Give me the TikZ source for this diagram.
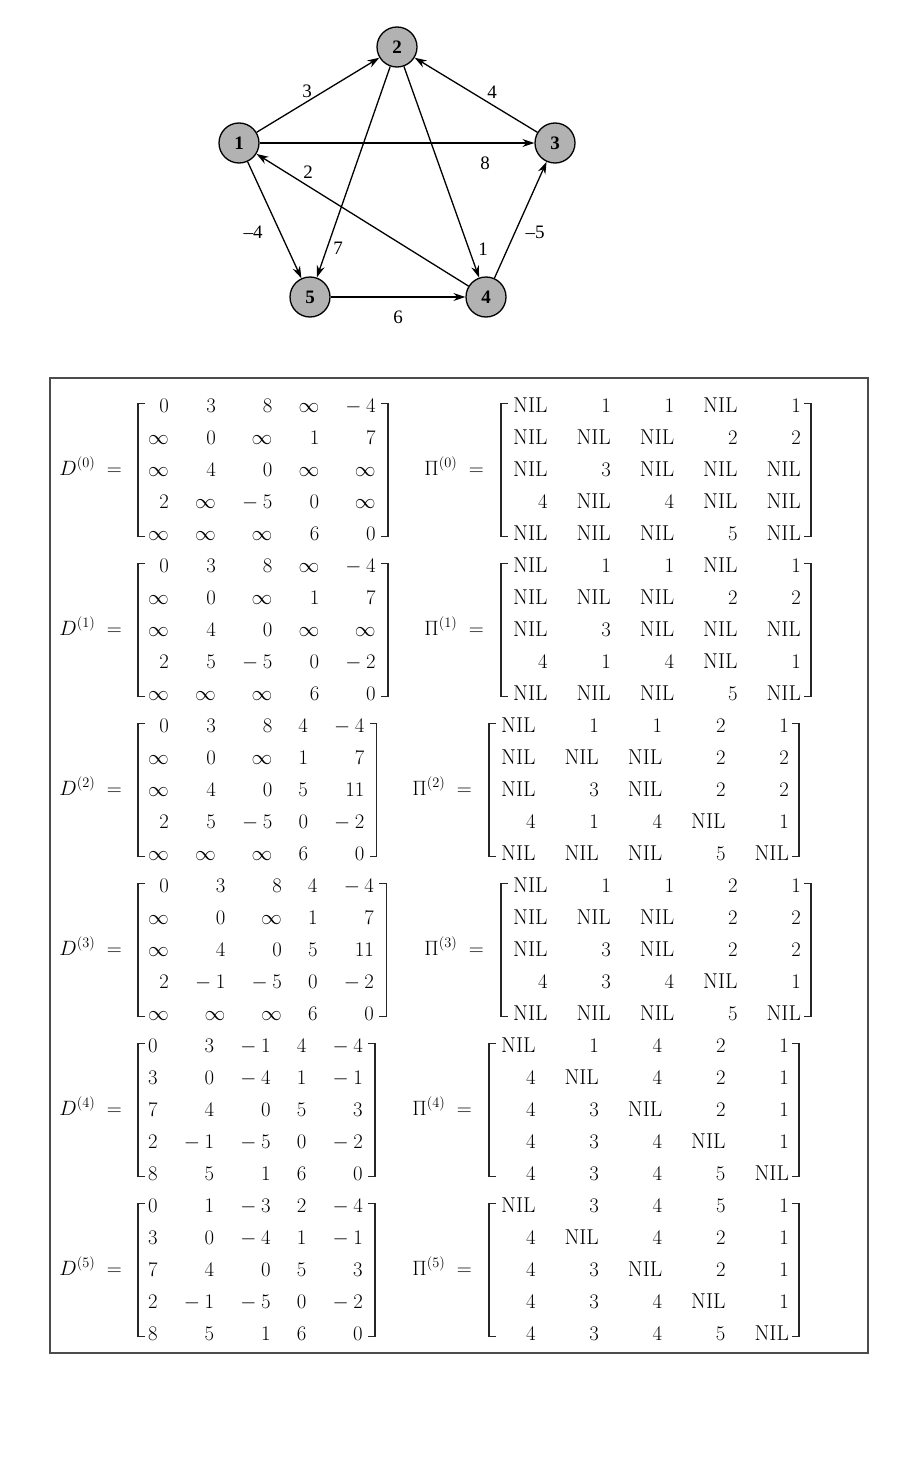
\documentclass[tikz,border=0pt]{standalone}
\usepackage{amsmath}
\usepackage{fontspec}
\usetikzlibrary{arrows.meta}
\newfontfamily\gfont{Liberation Serif}
\renewcommand{\arraystretch}{1.3333}
\newcommand{\myneg}{-\:}
\newcommand{\NIL}{\mathrm{NIL}}
\newcommand{\dmat}[1]{\setlength{\arraycolsep}{13.1pt}\begin{array}{@{\hspace{10pt}}rrrrr@{\hspace{12pt}}}#1\end{array}}
\newcommand{\pmat}[1]{\setlength{\arraycolsep}{14.5pt}\begin{array}{@{\hspace{12pt}}rrrrr@{\hspace{10pt}}}#1\end{array}}
\newcommand{\brk}[1]{%
  \draw[brkline] ([xshift=7pt,yshift=-14pt]#1.north west) -| ([yshift=14pt]#1.south west) -- ++(7pt,0);
  \draw[brkline] ([xshift=-7pt,yshift=-14pt]#1.north east) -| ([yshift=14pt]#1.south east) -- ++(-7pt,0);}
\tikzset{
  vtx/.style={circle, draw=black, line width=1.3pt, fill=gray!60, minimum size=40pt, inner sep=0pt, font=\gfont\bfseries\fontsize{19}{21}\selectfont},
  arr/.style={line width=1.3pt, -{Stealth[length=12pt,width=8pt]}},
  elab/.style={font=\gfont\fontsize{19}{22}\selectfont, inner sep=0pt},
  eqlab/.style={anchor=base east, inner sep=0pt, font=\fontsize{21.5}{24}\selectfont},
  mat/.style={anchor=west, inner sep=0pt, font=\fontsize{21.5}{24}\selectfont},
  brkline/.style={line width=1.3pt, black!85},
}
\begin{document}
\begin{tikzpicture}[x=1pt,y=-1pt]
\useasboundingbox (0,0) rectangle (922,1461);
% graph
\node[vtx] (n1) at (239,143) {1};
\node[vtx] (n2) at (397,47) {2};
\node[vtx] (n3) at (555,143) {3};
\node[vtx] (n4) at (486,297) {4};
\node[vtx] (n5) at (310,297) {5};
\draw[arr] (n1) -- (n2);
\draw[arr] (n3) -- (n2);
\draw[arr] (n1) -- (n3);
\draw[arr] (n4) -- (n1);
\draw[arr] (n1) -- (n5);
\draw[arr] (n2) -- (n5);
\draw[arr] (n2) -- (n4);
\draw[arr] (n4) -- (n3);
\draw[arr] (n5) -- (n4);
\node[elab] (l12) at (307,91) {3};
\node[elab] (l32) at (492,92) {4};
\node[elab] (l13) at (485,163) {8};
\node[elab] (l41) at (308,172) {2};
\node[elab] (l15) at (253,232) {–4};
\node[elab] (l25) at (338,248) {7};
\node[elab] (l24) at (483,249) {1};
\node[elab] (l43) at (535,232) {–5};
\node[elab] (l54) at (398,317) {6};
% frame
\draw[line width=1.8pt, draw=black!70] (50,378) rectangle (868,1353);
% D matrices
\node[eqlab] (dl0) at (122,475) {$D^{(0)}\;=$};
\node[mat] (d0) at (138,470) {$\dmat{0 & 3 & 8 & \infty & \myneg4\\ \infty & 0 & \infty & 1 & 7\\ \infty & 4 & 0 & \infty & \infty\\ 2 & \infty & \myneg5 & 0 & \infty\\ \infty & \infty & \infty & 6 & 0}$};
\brk{d0}
\node[eqlab] (dl1) at (122,635) {$D^{(1)}\;=$};
\node[mat] (d1) at (138,630) {$\dmat{0 & 3 & 8 & \infty & \myneg4\\ \infty & 0 & \infty & 1 & 7\\ \infty & 4 & 0 & \infty & \infty\\ 2 & 5 & \myneg5 & 0 & \myneg2\\ \infty & \infty & \infty & 6 & 0}$};
\brk{d1}
\node[eqlab] (dl2) at (122,795) {$D^{(2)}\;=$};
\node[mat] (d2) at (138,790) {$\dmat{0 & 3 & 8 & 4 & \myneg4\\ \infty & 0 & \infty & 1 & 7\\ \infty & 4 & 0 & 5 & 11\\ 2 & 5 & \myneg5 & 0 & \myneg2\\ \infty & \infty & \infty & 6 & 0}$};
\brk{d2}
\node[eqlab] (dl3) at (122,955) {$D^{(3)}\;=$};
\node[mat] (d3) at (138,950) {$\dmat{0 & 3 & 8 & 4 & \myneg4\\ \infty & 0 & \infty & 1 & 7\\ \infty & 4 & 0 & 5 & 11\\ 2 & \myneg1 & \myneg5 & 0 & \myneg2\\ \infty & \infty & \infty & 6 & 0}$};
\brk{d3}
\node[eqlab] (dl4) at (122,1115) {$D^{(4)}\;=$};
\node[mat] (d4) at (138,1110) {$\dmat{0 & 3 & \myneg1 & 4 & \myneg4\\ 3 & 0 & \myneg4 & 1 & \myneg1\\ 7 & 4 & 0 & 5 & 3\\ 2 & \myneg1 & \myneg5 & 0 & \myneg2\\ 8 & 5 & 1 & 6 & 0}$};
\brk{d4}
\node[eqlab] (dl5) at (122,1275) {$D^{(5)}\;=$};
\node[mat] (d5) at (138,1270) {$\dmat{0 & 1 & \myneg3 & 2 & \myneg4\\ 3 & 0 & \myneg4 & 1 & \myneg1\\ 7 & 4 & 0 & 5 & 3\\ 2 & \myneg1 & \myneg5 & 0 & \myneg2\\ 8 & 5 & 1 & 6 & 0}$};
\brk{d5}
% Pi matrices
\node[eqlab] (pl0) at (484,475) {$\Pi^{(0)}\;=$};
\node[mat] (p0) at (501,470) {$\pmat{\NIL & 1 & 1 & \NIL & 1\\ \NIL & \NIL & \NIL & 2 & 2\\ \NIL & 3 & \NIL & \NIL & \NIL\\ 4 & \NIL & 4 & \NIL & \NIL\\ \NIL & \NIL & \NIL & 5 & \NIL}$};
\brk{p0}
\node[eqlab] (pl1) at (484,635) {$\Pi^{(1)}\;=$};
\node[mat] (p1) at (501,630) {$\pmat{\NIL & 1 & 1 & \NIL & 1\\ \NIL & \NIL & \NIL & 2 & 2\\ \NIL & 3 & \NIL & \NIL & \NIL\\ 4 & 1 & 4 & \NIL & 1\\ \NIL & \NIL & \NIL & 5 & \NIL}$};
\brk{p1}
\node[eqlab] (pl2) at (472,795) {$\Pi^{(2)}\;=$};
\node[mat] (p2) at (489,790) {$\pmat{\NIL & 1 & 1 & 2 & 1\\ \NIL & \NIL & \NIL & 2 & 2\\ \NIL & 3 & \NIL & 2 & 2\\ 4 & 1 & 4 & \NIL & 1\\ \NIL & \NIL & \NIL & 5 & \NIL}$};
\brk{p2}
\node[eqlab] (pl3) at (484,955) {$\Pi^{(3)}\;=$};
\node[mat] (p3) at (501,950) {$\pmat{\NIL & 1 & 1 & 2 & 1\\ \NIL & \NIL & \NIL & 2 & 2\\ \NIL & 3 & \NIL & 2 & 2\\ 4 & 3 & 4 & \NIL & 1\\ \NIL & \NIL & \NIL & 5 & \NIL}$};
\brk{p3}
\node[eqlab] (pl4) at (472,1115) {$\Pi^{(4)}\;=$};
\node[mat] (p4) at (489,1110) {$\pmat{\NIL & 1 & 4 & 2 & 1\\ 4 & \NIL & 4 & 2 & 1\\ 4 & 3 & \NIL & 2 & 1\\ 4 & 3 & 4 & \NIL & 1\\ 4 & 3 & 4 & 5 & \NIL}$};
\brk{p4}
\node[eqlab] (pl5) at (472,1275) {$\Pi^{(5)}\;=$};
\node[mat] (p5) at (489,1270) {$\pmat{\NIL & 3 & 4 & 5 & 1\\ 4 & \NIL & 4 & 2 & 1\\ 4 & 3 & \NIL & 2 & 1\\ 4 & 3 & 4 & \NIL & 1\\ 4 & 3 & 4 & 5 & \NIL}$};
\brk{p5}
\end{tikzpicture}
\end{document}
